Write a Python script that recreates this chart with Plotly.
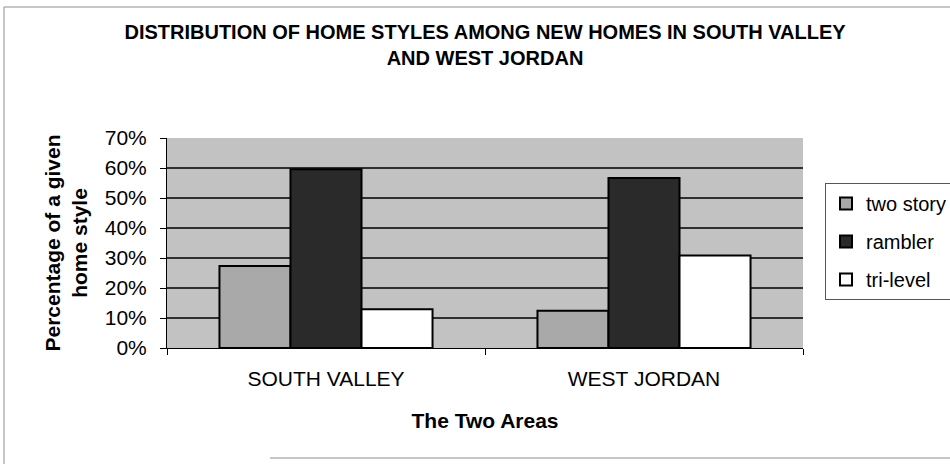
import plotly.graph_objects as go

# ---- data ----
areas = ["SOUTH VALLEY", "WEST JORDAN"]
two_story = [0.273, 0.124]
rambler = [0.596, 0.567]
tri_level = [0.129, 0.308]
series_names = ["two story", "rambler", "tri-level"]
y_ticks = [0, 0.1, 0.2, 0.3, 0.4, 0.5, 0.6, 0.7]
y_tick_labels = ["0%", "10%", "20%", "30%", "40%", "50%", "60%", "70%"]

title_text = "DISTRIBUTION OF HOME STYLES AMONG NEW HOMES IN SOUTH VALLEY<br>AND WEST JORDAN"
x_title = "The Two Areas"
y_title = "Percentage of a given<br>home style"

colors = ["#a9a9a9", "#2a2a2a", "#ffffff"]
FONT = "Liberation Sans, Arial, sans-serif"

W, H = 950, 464
# plot-area pixel frame (used only to convert page border positions to paper units)
PL, PR, PT, PB = 167, 803, 138, 348
PW, PH = PR - PL, PB - PT


def px(x):
    return (x - PL) / PW


def py(y):
    return (PB - y) / PH


fig = go.Figure()
for i, (name, vals) in enumerate(zip(series_names, [two_story, rambler, tri_level])):
    fig.add_trace(go.Bar(
        x=areas, y=vals, name=name,
        marker=dict(color=colors[i], line=dict(color="#000000", width=2)),
        legendgroup=name,
    ))

border = dict(color="#8f8f8f", width=1)
fig.update_layout(
    width=W, height=H,
    margin=dict(l=PL, r=W - PR, t=PT, b=H - PB, pad=0, autoexpand=False),
    paper_bgcolor="white",
    plot_bgcolor="#c2c2c2",
    barmode="group",
    bargap=0.33, bargroupgap=0,
    font=dict(family=FONT, color="#000000", size=20),
    title=dict(text="<b>" + title_text + "</b>", x=0.5, xref="paper", xanchor="center",
               y=0.915, yref="container", yanchor="top",
               font=dict(size=20, family=FONT)),
    legend=dict(x=825 / W, xref="container", xanchor="left",
                y=1 - 183 / H, yref="container", yanchor="top",
                bordercolor="#555555", borderwidth=1, bgcolor="white",
                font=dict(size=20, family=FONT), tracegroupgap=9,
                itemwidth=30),
    showlegend=True,
    xaxis=dict(
        showline=True, linecolor="#000000", linewidth=1,
        ticks="outside", tickson="boundaries", ticklen=6, tickcolor="#000000",
        tickfont=dict(size=21), ticklabelstandoff=12,
        title=dict(text="<b>" + x_title + "</b>", font=dict(size=21), standoff=24),
    ),
    yaxis=dict(
        range=[0, 0.7], tickvals=y_ticks, ticktext=y_tick_labels,
        showline=True, linecolor="#000000", linewidth=1,
        ticks="outside", ticklen=6, tickcolor="#000000",
        showgrid=True, gridcolor="#303030", gridwidth=1.5,
        zeroline=False, tickfont=dict(size=21), ticklabelstandoff=9,
        title=dict(text="<b>" + y_title + "</b>", font=dict(size=21), standoff=11),
    ),
    shapes=[
        dict(type="line", xref="paper", yref="paper", x0=px(4), x1=px(4), y0=py(470), y1=py(7), line=border),
        dict(type="line", xref="paper", yref="paper", x0=px(4), x1=px(955), y0=py(7), y1=py(7), line=border),
        dict(type="line", xref="paper", yref="paper", x0=px(270), x1=px(955), y0=py(458), y1=py(458), line=border),
    ],
)

fig.write_html("out.html")
